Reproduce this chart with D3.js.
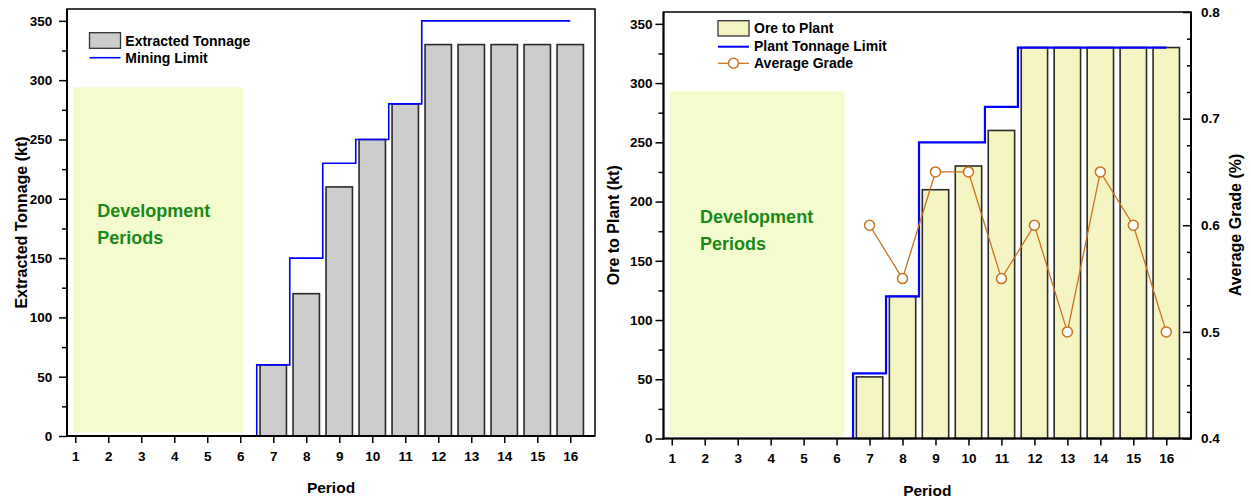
<!DOCTYPE html>
<html><head><meta charset="utf-8">
<script src="https://cdnjs.cloudflare.com/ajax/libs/d3/7.8.5/d3.min.js"></script>
<style>
html,body{margin:0;padding:0;background:#fff;}
svg text{font-family:"Liberation Sans",Arial,sans-serif;font-weight:bold;}
</style></head>
<body>
<svg id="chart" width="1251" height="501"></svg>
<script>
// ---------- DATA ----------
const periods = [1,2,3,4,5,6,7,8,9,10,11,12,13,14,15,16];
const barPeriods = [7,8,9,10,11,12,13,14,15,16];
const extractedTonnage = [60,120,210,250,280,330,330,330,330,330];
const miningLimitAt = [6.5,7.5,8.5,9.5,10.5,11.5];
const miningLimit = [60,150,230,250,280,350];
const miningLimitEnd = 16;
const oreToPlant = [52,120,210,230,260,330,330,330,330,330];
const plantLimitAt = [6.5,7.5,8.5,10.5,11.5];
const plantLimit = [55,120,250,280,330];
const plantLimitEnd = 16;
const averageGrade = [0.60,0.55,0.65,0.65,0.55,0.60,0.50,0.65,0.60,0.50];
const yTicksKt = [0,50,100,150,200,250,300,350];
const yMinorKt = [25,75,125,175,225,275,325];
const yTicksGrade = [0.4,0.5,0.6,0.7,0.8];
const yMinorGrade = [0.425,0.45,0.475,0.525,0.55,0.575,0.625,0.65,0.675,0.725,0.75,0.775];
const devBoxLeft = {x:[0.94,6.09], y:[3,294]};
const devBoxRight = {x:[0.95,6.24], y:[2,293]};

// ---------- DRAW ----------
const svg = d3.select("#chart");
const FS_TICK = "13.5px", FS_TITLE = "16px";

function stepPoints(at, vals, end){
  const pts = [[at[0],0]];
  at.forEach((a,i)=>pts.push([a, vals[i]]));
  pts.push([end, vals[vals.length-1]]);
  return pts;
}

function panel(cfg){
  const g = svg.append("g");
  const x = d3.scaleLinear().domain([0.75,16.75]).range([cfg.x0,cfg.x1]);
  const y = d3.scaleLinear().domain([0,360]).range([cfg.yb,cfg.yt]);

  // development box
  g.append("rect")
    .attr("x",x(cfg.dev.x[0])).attr("width",x(cfg.dev.x[1])-x(cfg.dev.x[0]))
    .attr("y",y(cfg.dev.y[1])).attr("height",y(cfg.dev.y[0])-y(cfg.dev.y[1]))
    .attr("fill","#f4fbcd");
  const tx = x(cfg.dev.x[0]) + cfg.devTextDx;
  g.append("text").attr("x",tx).attr("y",cfg.devTextY).text("Development")
    .attr("fill","#1a891a").style("font-size","18px");
  g.append("text").attr("x",tx).attr("y",cfg.devTextY+27).text("Periods")
    .attr("fill","#1a891a").style("font-size","18px");

  // bars
  const bw = (x(2)-x(1))*0.8;
  g.selectAll(".bar").data(barPeriods).enter().append("rect")
    .attr("x",d=>x(d)-bw/2).attr("width",bw)
    .attr("y",(d,i)=>y(cfg.bars[i])).attr("height",(d,i)=>y(0)-y(cfg.bars[i]))
    .attr("fill",cfg.barFill).attr("stroke","#2a2a2a").attr("stroke-width",1.6);

  // limit step line
  const line = d3.line().x(d=>x(d[0])).y(d=>y(d[1])).curve(d3.curveStepAfter);
  g.append("path").datum(stepPoints(cfg.limAt,cfg.lim,cfg.limEnd))
    .attr("d",line).attr("fill","none").attr("stroke","#0000ff").attr("stroke-width",cfg.limW);

  // axes
  const xa = g.append("g").attr("transform",`translate(0,${cfg.yb})`)
    .call(d3.axisBottom(x).tickValues(periods).tickSize(7).tickPadding(8).tickFormat(d3.format("d")));
  const ya = g.append("g").attr("transform",`translate(${cfg.x0},0)`)
    .call(d3.axisLeft(y).tickValues(yTicksKt).tickSize(8).tickPadding(cfg.yPad));
  const yam = g.append("g").attr("transform",`translate(${cfg.x0},0)`)
    .call(d3.axisLeft(y).tickValues(yMinorKt).tickSize(5).tickFormat(""));
  [xa,ya,yam].forEach(a=>{
    a.select(".domain").remove();
    a.selectAll("line").attr("stroke","#000").attr("stroke-width",1.5);
    a.selectAll("text").attr("fill","#000").style("font-size",FS_TICK);
  });

  // frame
  g.append("rect").attr("x",cfg.x0).attr("y",cfg.yt).attr("width",cfg.x1-cfg.x0).attr("height",cfg.yb-cfg.yt)
    .attr("fill","none").attr("stroke","#000").attr("stroke-width",1.5);
  g.append("line").attr("x1",cfg.x0).attr("x2",cfg.x0).attr("y1",cfg.yt).attr("y2",cfg.yb+1)
    .attr("stroke","#000").attr("stroke-width",2);
  g.append("line").attr("x1",cfg.x0-1).attr("x2",cfg.x1).attr("y1",cfg.yb).attr("y2",cfg.yb)
    .attr("stroke","#000").attr("stroke-width",2);

  // titles
  g.append("text").attr("x",(cfg.x0+cfg.x1)/2).attr("y",cfg.yb+57).attr("text-anchor","middle")
    .style("font-size","15.5px").text("Period");
  g.append("text").attr("transform",`translate(${cfg.ylabX},${(cfg.yt+cfg.yb)/2}) rotate(-90)`)
    .attr("text-anchor","middle").attr("dominant-baseline","central")
    .style("font-size",FS_TITLE).text(cfg.ylab);

  return {g,x,y};
}

// ----- left panel -----
const L = panel({x0:67,x1:595,yt:9,yb:436,dev:devBoxLeft,devTextDx:24,devTextY:216.5,
  bars:extractedTonnage,barFill:"#cdcdcd",limAt:miningLimitAt,lim:miningLimit,limEnd:miningLimitEnd,limW:1.6,
  yPad:6.7,ylabX:21,ylab:"Extracted Tonnage (kt)"});
// legend left
L.g.append("rect").attr("x",89.5).attr("y",32.7).attr("width",31).attr("height",15.6)
  .attr("fill","#cdcdcd").attr("stroke","#333").attr("stroke-width",1.3);
L.g.append("text").attr("x",125.3).attr("y",45.5).style("font-size","14px").text("Extracted Tonnage");
L.g.append("line").attr("x1",89.5).attr("x2",120.5).attr("y1",57.7).attr("y2",57.7)
  .attr("stroke","#0000ff").attr("stroke-width",1.6);
L.g.append("text").attr("x",125.3).attr("y",62.5).style("font-size","14px").text("Mining Limit");

// ----- right panel -----
const R = panel({x0:663.5,x1:1191,yt:12,yb:438.5,dev:devBoxRight,devTextDx:30,devTextY:222.5,
  bars:oreToPlant,barFill:"#f5f5c4",limAt:plantLimitAt,lim:plantLimit,limEnd:plantLimitEnd,limW:2.2,
  yPad:3,ylabX:613,ylab:"Ore to Plant (kt)"});
const y2 = d3.scaleLinear().domain([0.4,0.8]).range([438.5,12]);
const GRADE = "#c8731e";
const gl = d3.line().x((d,i)=>R.x(barPeriods[i])).y(d=>y2(d));
R.g.append("path").datum(averageGrade).attr("d",gl).attr("fill","none").attr("stroke",GRADE).attr("stroke-width",1.3);
R.g.selectAll(".pt").data(averageGrade).enter().append("circle")
  .attr("cx",(d,i)=>R.x(barPeriods[i])).attr("cy",d=>y2(d)).attr("r",5)
  .attr("fill","#fff").attr("stroke",GRADE).attr("stroke-width",1.5);
const ra = R.g.append("g").attr("transform","translate(1191,0)")
  .call(d3.axisRight(y2).tickValues(yTicksGrade).tickSize(-8).tickPadding(10).tickFormat(d3.format(".1f")));
const ram = R.g.append("g").attr("transform","translate(1191,0)")
  .call(d3.axisRight(y2).tickValues(yMinorGrade).tickSize(-4).tickFormat(""));
[ra,ram].forEach(a=>{
  a.select(".domain").remove();
  a.selectAll("line").attr("stroke","#000").attr("stroke-width",1.5);
  a.selectAll("text").attr("fill","#000").style("font-size",FS_TICK);
});
R.g.append("line").attr("x1",1191).attr("x2",1191).attr("y1",12).attr("y2",439.5).attr("stroke","#000").attr("stroke-width",2);
R.g.append("text").attr("transform",`translate(1235,225) rotate(-90)`)
  .attr("text-anchor","middle").attr("dominant-baseline","central")
  .style("font-size",FS_TITLE).text("Average Grade (%)");
// legend right
R.g.append("rect").attr("x",718).attr("y",20.7).attr("width",31).attr("height",15.3)
  .attr("fill","#f5f5c4").attr("stroke","#333").attr("stroke-width",1.3);
R.g.append("text").attr("x",754).attr("y",33.3).style("font-size","14px").text("Ore to Plant");
R.g.append("line").attr("x1",718).attr("x2",749).attr("y1",46.7).attr("y2",46.7)
  .attr("stroke","#0000ff").attr("stroke-width",2);
R.g.append("text").attr("x",754).attr("y",51).style("font-size","14px").text("Plant Tonnage Limit");
R.g.append("line").attr("x1",718).attr("x2",749).attr("y1",63.3).attr("y2",63.3)
  .attr("stroke",GRADE).attr("stroke-width",1.3);
R.g.append("circle").attr("cx",733.5).attr("cy",63.3).attr("r",5).attr("fill","#fff")
  .attr("stroke",GRADE).attr("stroke-width",1.5);
R.g.append("text").attr("x",754).attr("y",68).style("font-size","14px").text("Average Grade");
</script>
</body></html>
